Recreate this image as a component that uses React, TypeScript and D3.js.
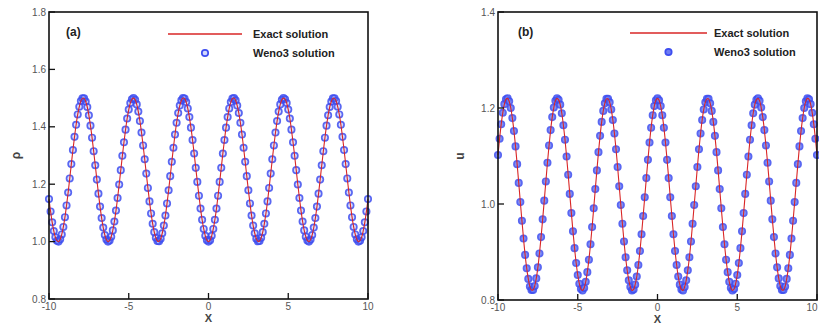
import React from "react";
import * as d3 from "d3";

// x grid: -10 .. 10, step 0.1 (201 samples)
const X_MIN = -10;
const X_STEP = 0.1;

// Panel (a): density rho
const RHO: number[] = [
  1.148, 1.105, 1.067, 1.037, 1.015, 1.003, 1.000, 1.008, 1.025, 1.051,
  1.085, 1.126, 1.171, 1.220, 1.270, 1.319, 1.365, 1.407, 1.443, 1.470,
  1.490, 1.499, 1.499, 1.488, 1.469, 1.440, 1.404, 1.362, 1.315, 1.266,
  1.216, 1.167, 1.122, 1.082, 1.049, 1.023, 1.007, 1.000, 1.004, 1.017,
  1.039, 1.070, 1.108, 1.152, 1.199, 1.249, 1.299, 1.346, 1.390, 1.429,
  1.460, 1.483, 1.496, 1.500, 1.494, 1.478, 1.453, 1.420, 1.380, 1.335,
  1.287, 1.237, 1.187, 1.140, 1.098, 1.062, 1.033, 1.013, 1.002, 1.001,
  1.010, 1.029, 1.056, 1.091, 1.133, 1.179, 1.228, 1.278, 1.327, 1.373,
  1.414, 1.448, 1.474, 1.492, 1.500, 1.498, 1.486, 1.464, 1.434, 1.397,
  1.354, 1.307, 1.257, 1.208, 1.160, 1.115, 1.076, 1.044, 1.020, 1.005,
  1.000,
  1.005, 1.020, 1.044, 1.076, 1.115, 1.160, 1.208, 1.257, 1.307, 1.354,
  1.397, 1.434, 1.464, 1.486, 1.498, 1.500, 1.492, 1.474, 1.448, 1.414,
  1.373, 1.327, 1.278, 1.228, 1.179, 1.133, 1.091, 1.056, 1.029, 1.010,
  1.001, 1.002, 1.013, 1.033, 1.062, 1.098, 1.140, 1.187, 1.237, 1.287,
  1.335, 1.380, 1.420, 1.453, 1.478, 1.494, 1.500, 1.496, 1.483, 1.460,
  1.429, 1.390, 1.346, 1.299, 1.249, 1.199, 1.152, 1.108, 1.070, 1.039,
  1.017, 1.004, 1.000, 1.007, 1.023, 1.049, 1.082, 1.122, 1.167, 1.216,
  1.266, 1.315, 1.362, 1.404, 1.440, 1.469, 1.488, 1.499, 1.499, 1.490,
  1.470, 1.443, 1.407, 1.365, 1.319, 1.270, 1.220, 1.171, 1.126, 1.085,
  1.051, 1.025, 1.008, 1.000, 1.003, 1.015, 1.037, 1.067, 1.105, 1.148,
];

// Panel (b): velocity u
const U: number[] = [
  1.102, 1.136, 1.166, 1.190, 1.208, 1.218, 1.220, 1.214, 1.200, 1.179,
  1.152, 1.120, 1.083, 1.044, 1.004, 0.965, 0.928, 0.894, 0.866, 0.844,
  0.828, 0.821, 0.821, 0.829, 0.845, 0.868, 0.897, 0.931, 0.968, 1.007,
  1.047, 1.086, 1.122, 1.154, 1.181, 1.201, 1.215, 1.220, 1.217, 1.207,
  1.189, 1.164, 1.134, 1.099, 1.061, 1.021, 0.981, 0.943, 0.908, 0.877,
  0.852, 0.834, 0.823, 0.820, 0.825, 0.838, 0.858, 0.884, 0.916, 0.952,
  0.991, 1.031, 1.070, 1.108, 1.142, 1.171, 1.194, 1.210, 1.219, 1.219,
  1.212, 1.197, 1.175, 1.147, 1.114, 1.077, 1.037, 0.998, 0.959, 0.922,
  0.889, 0.862, 0.841, 0.827, 0.820, 0.822, 0.832, 0.849, 0.873, 0.902,
  0.937, 0.975, 1.014, 1.054, 1.092, 1.128, 1.159, 1.185, 1.204, 1.216,
  1.220,
  1.216, 1.204, 1.185, 1.159, 1.128, 1.092, 1.054, 1.014, 0.975, 0.937,
  0.902, 0.873, 0.849, 0.832, 0.822, 0.820, 0.827, 0.841, 0.862, 0.889,
  0.922, 0.959, 0.998, 1.037, 1.077, 1.114, 1.147, 1.175, 1.197, 1.212,
  1.219, 1.219, 1.210, 1.194, 1.171, 1.142, 1.108, 1.070, 1.031, 0.991,
  0.952, 0.916, 0.884, 0.858, 0.838, 0.825, 0.820, 0.823, 0.834, 0.852,
  0.877, 0.908, 0.943, 0.981, 1.021, 1.061, 1.099, 1.134, 1.164, 1.189,
  1.207, 1.217, 1.220, 1.215, 1.201, 1.181, 1.154, 1.122, 1.086, 1.047,
  1.007, 0.968, 0.931, 0.897, 0.868, 0.845, 0.829, 0.821, 0.821, 0.828,
  0.844, 0.866, 0.894, 0.928, 0.965, 1.004, 1.044, 1.083, 1.120, 1.152,
  1.179, 1.200, 1.214, 1.220, 1.218, 1.208, 1.190, 1.166, 1.136, 1.102,
];

const X_TICKS = [-10, -5, 0, 5, 10];
const RHO_TICKS = [0.8, 1.0, 1.2, 1.4, 1.6, 1.8];
const U_TICKS = [0.8, 1.0, 1.2, 1.4];
const LEGEND_LABELS = ["Exact solution", "Weno3 solution"];

const FONT = "'Liberation Sans', Arial, sans-serif";
const RED = "#d92626";
const BLUE = "#3d4df0";
const W = 819;

type PanelProps = {
  left: number;
  right: number;
  top: number;
  bottom: number;
  yDomain: [number, number];
  yTicks: number[];
  values: number[];
  tag: string;
  yLabel: string;
  yLabelX: number;
  legendLineX: [number, number];
  legendTextX: number;
  legendY: number;
  tagX: number;
  markerFill: string;
};

function Panel(p: PanelProps) {
  const x = d3.scaleLinear().domain([-10, 10]).range([p.left, p.right]);
  const y = d3.scaleLinear().domain(p.yDomain).range([p.bottom, p.top]);
  const pts = p.values.map((v, i) => [X_MIN + i * X_STEP, v] as [number, number]);
  const line = d3
    .line<[number, number]>()
    .x((d) => x(d[0]))
    .y((d) => y(d[1]))
    .curve(d3.curveCatmullRom);
  const tickLen = 6;
  return (
    <g>
      {/* markers */}
      {pts.map((d, i) => (
        <circle
          key={i}
          cx={x(d[0])}
          cy={y(d[1])}
          r={3.2}
          fill={p.markerFill}
          stroke={BLUE}
          strokeWidth={1.7}
          opacity={0.85}
        />
      ))}
      {/* exact line */}
      <path d={line(pts) || ""} fill="none" stroke={RED} strokeWidth={1.1} />
      {/* frame */}
      <rect
        x={p.left}
        y={p.top}
        width={p.right - p.left}
        height={p.bottom - p.top}
        fill="none"
        stroke="#111"
        strokeWidth={1.6}
      />
      {/* y ticks */}
      {p.yTicks.map((t) => (
        <g key={"y" + t}>
          <line x1={p.left} x2={p.left + tickLen} y1={y(t)} y2={y(t)} stroke="#111" strokeWidth={1.3} />
          <text
            x={p.left - 3}
            y={y(t)}
            dy="0.35em"
            textAnchor="end"
            fontFamily={FONT}
            fontSize={10}
            fill="#555"
          >
            {t.toFixed(1)}
          </text>
        </g>
      ))}
      {/* x ticks */}
      {X_TICKS.map((t) => {
        const tx = Math.min(x(t), W - 7);
        return (
          <g key={"x" + t}>
            <line x1={x(t)} x2={x(t)} y1={p.bottom} y2={p.bottom - tickLen} stroke="#111" strokeWidth={1.3} />
            <text
              x={tx}
              y={p.bottom + 11}
              textAnchor="middle"
              fontFamily={FONT}
              fontSize={10}
              fill="#555"
            >
              {t}
            </text>
          </g>
        );
      })}
      {/* axis labels */}
      <text
        x={(p.left + p.right) / 2}
        y={p.bottom + 23}
        textAnchor="middle"
        fontFamily={FONT}
        fontSize={11}
        fontWeight="bold"
        fill="#444"
      >
        X
      </text>
      <text
        transform={`translate(${p.yLabelX},${(p.top + p.bottom) / 2}) rotate(-90)`}
        textAnchor="middle"
        fontFamily={FONT}
        fontSize={12}
        fontWeight="bold"
        fill="#444"
      >
        {p.yLabel}
      </text>
      {/* panel tag */}
      <text x={p.tagX} y={p.top + 24} fontFamily={FONT} fontSize={12} fontWeight="bold" fill="#222">
        {p.tag}
      </text>
      {/* legend */}
      <line
        x1={p.legendLineX[0]}
        x2={p.legendLineX[1]}
        y1={p.legendY}
        y2={p.legendY}
        stroke={RED}
        strokeWidth={1.6}
      />
      <text x={p.legendTextX} y={p.legendY} dy="0.35em" fontFamily={FONT} fontSize={11} fontWeight="bold" fill="#222">
        {LEGEND_LABELS[0]}
      </text>
      <circle
        cx={(p.legendLineX[0] + p.legendLineX[1]) / 2}
        cy={p.legendY + 19}
        r={3.2}
        fill={p.markerFill}
        stroke={BLUE}
        strokeWidth={1.7}
      />
      <text x={p.legendTextX} y={p.legendY + 19} dy="0.35em" fontFamily={FONT} fontSize={11} fontWeight="bold" fill="#222">
        {LEGEND_LABELS[1]}
      </text>
    </g>
  );
}

export default function App() {
  return (
    <svg
      width={W}
      height={329}
      style={{ position: "absolute", left: 0, top: 0, background: "#fff" }}
    >
      <rect width={W} height={329} fill="#fff" />
      <Panel
        left={49}
        right={368}
        top={12}
        bottom={299}
        yDomain={[0.8, 1.8]}
        yTicks={RHO_TICKS}
        values={RHO}
        tag="(a)"
        yLabel="ρ"
        yLabelX={20}
        legendLineX={[168, 242]}
        legendTextX={253}
        legendY={34}
        tagX={66}
        markerFill="rgba(110,125,245,0.3)"
      />
      <Panel
        left={498}
        right={817}
        top={12}
        bottom={300}
        yDomain={[0.8, 1.4]}
        yTicks={U_TICKS}
        values={U}
        tag="(b)"
        yLabel="u"
        yLabelX={464}
        legendLineX={[630, 707]}
        legendTextX={714}
        legendY={33}
        tagX={518}
        markerFill="#6e7cf2"
      />
    </svg>
  );
}
